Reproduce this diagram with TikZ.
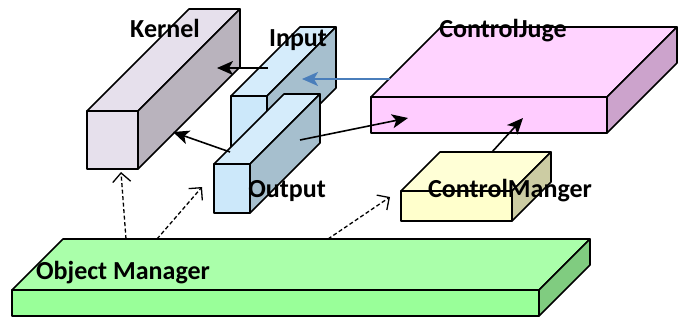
\documentclass[tikz,border=0pt]{standalone}
\usepackage{fontspec}
\setmainfont{Carlito}
\usetikzlibrary{arrows.meta}

% Solid block drawn in oblique projection:
% #1,#2 front top-left corner, #3 width, #4 height, #5 depth,
% #6 front colour, #7 top colour, #8 side colour
\newcommand\solidblock[8]{%
  \filldraw[blockline,fill=#6] (#1,#2) rectangle ({#1+#3},{#2+#4});
  \filldraw[blockline,fill=#7] (#1,#2) -- ({#1+#5},{#2-#5}) -- ({#1+#3+#5},{#2-#5}) -- ({#1+#3},#2) -- cycle;
  \filldraw[blockline,fill=#8] ({#1+#3},#2) -- ({#1+#3+#5},{#2-#5}) -- ({#1+#3+#5},{#2+#4-#5}) -- ({#1+#3},{#2+#4}) -- cycle;
}

\definecolor{kernfront}{HTML}{E6E0EC}
\definecolor{kernside}{HTML}{B9B3BD}
\definecolor{iofront}{HTML}{CCE8FA}
\definecolor{iotop}{HTML}{D5ECFB}
\definecolor{ioside}{HTML}{A6BFCE}
\definecolor{cjfront}{HTML}{FFCCFF}
\definecolor{cjtop}{HTML}{FFD3FF}
\definecolor{cjside}{HTML}{CCA3CC}
\definecolor{cmfront}{HTML}{FFFFCC}
\definecolor{cmtop}{HTML}{FFFFD6}
\definecolor{cmside}{HTML}{CCCCA3}
\definecolor{omfront}{HTML}{99FF99}
\definecolor{omtop}{HTML}{AAFFAA}
\definecolor{omside}{HTML}{80CC80}
\definecolor{flowblue}{HTML}{4A7EBB}

\tikzset{
  blockline/.style={draw=black,line width=1.6pt,line join=round},
  label/.style={font=\fontsize{26}{30}\selectfont\bfseries,inner sep=0pt,anchor=base},
  flow/.style={line width=1.6pt,-{Stealth[length=16pt,width=14pt,inset=4pt]}},
  bluflow/.style={flow,draw=flowblue,line width=1.4pt},
  dep/.style={line width=1.3pt,dashed,dash pattern=on 4pt off 2.5pt,-{Straight Barb[length=9pt,width=18pt,line width=1.3pt]}}
}

\begin{document}
\begin{tikzpicture}[x=1pt,y=-1pt]
\useasboundingbox (0,0) rectangle (683,324);

% blocks, back to front
\solidblock{87}{111}{51}{58}{102}{kernfront}{kernfront}{kernside}
\solidblock{231}{96}{36}{61}{69}{iofront}{iotop}{ioside}
\solidblock{214}{164}{36}{49}{70}{iofront}{iotop}{ioside}
\solidblock{371}{97}{236}{36}{70}{cjfront}{cjtop}{cjside}
\solidblock{401}{191}{111}{30}{39}{cmfront}{cmtop}{cmside}
\solidblock{12}{290}{527}{26}{51}{omfront}{omtop}{omside}

% connector end points on the block faces
\coordinate (inOut) at (268,68);
\coordinate (kernIn) at (217,68);
\coordinate (cjOut) at (390,79);
\coordinate (inIn) at (302,79);
\coordinate (outA) at (230,152);
\coordinate (kernIn2) at (173,132);
\coordinate (outB) at (300,140);
\coordinate (cjIn) at (408,118);
\coordinate (cmOut) at (492,152);
\coordinate (cjIn2) at (523,118);
\coordinate (omA) at (126,239);
\coordinate (kernBot) at (121,172);
\coordinate (omB) at (157,239);
\coordinate (outBot) at (202,187);
\coordinate (omC) at (328,239);
\coordinate (cmLeft) at (390,197);

% connectors
\draw[flow] (inOut) -- (kernIn);
\draw[bluflow] (cjOut) -- (inIn);
\draw[flow] (outA) -- (kernIn2);
\draw[flow] (outB) -- (cjIn);
\draw[flow] (cmOut) -- (cjIn2);
\draw[dep] (omA) -- (kernBot);
\draw[dep] (omB) -- (outBot);
\draw[dep] (omC) -- (cmLeft);

% labels
\node[label] (kernel) at (165,37) {Kernel};
\node[label] (input) at (298,46) {Input};
\node[label] (controljuge) at (503,37) {ControlJuge};
\node[label] (output) at (287,197) {Output};
\node[label] (controlmanger) at (510,197) {ControlManger};
\node[label] (objectmanager) at (123,279) {Object Manager};
\end{tikzpicture}
\end{document}
